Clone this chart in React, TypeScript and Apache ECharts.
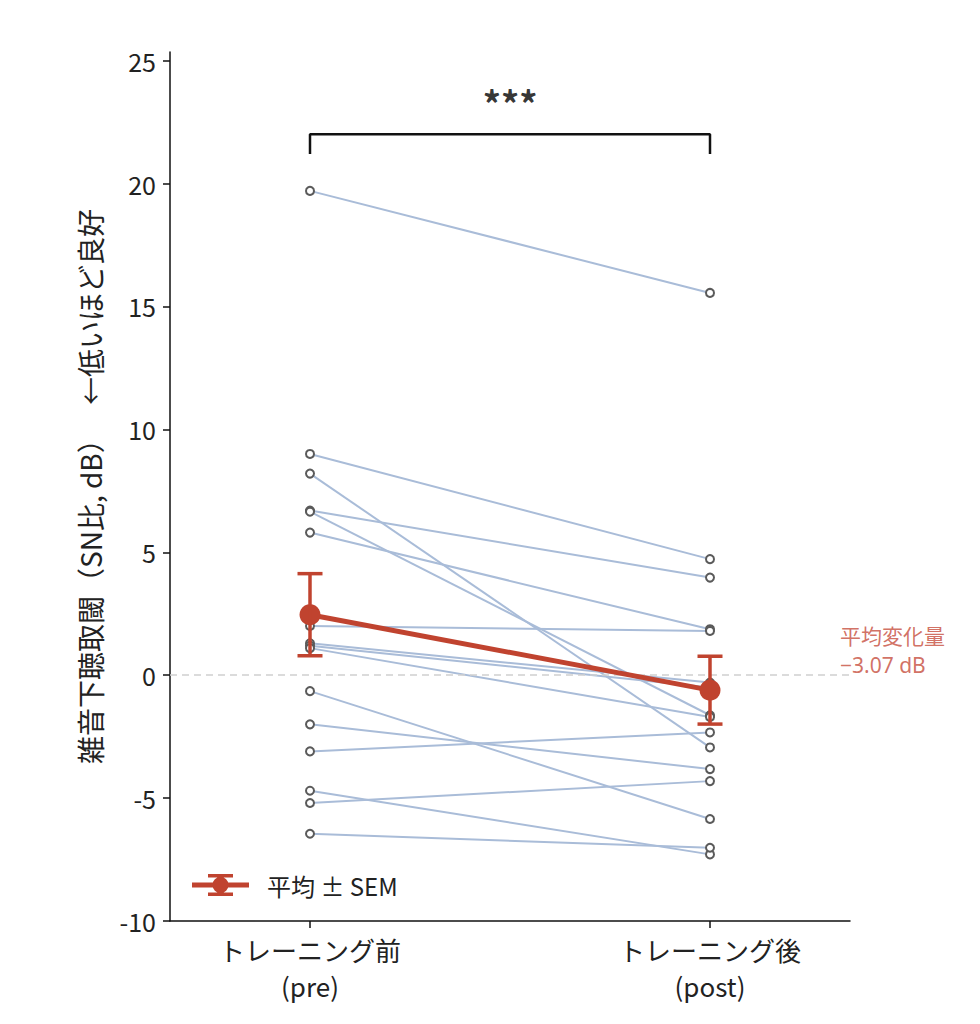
import React, { useEffect, useRef } from "react";
import * as echarts from "echarts";

const categories = ["トレーニング前\n(pre)", "トレーニング後\n(post)"];
const preValues = [19.7, 9.0, 8.2, 6.7, 6.65, 5.8, 2.0, 1.3, 1.2, 1.1, -0.65, -2.0, -3.1, -4.7, -5.2, -6.45];
const postValues = [15.55, 4.72, -2.94, 3.97, -1.63, 1.87, 1.8, -0.3, -0.5, -1.7, -5.85, -3.82, -2.33, -7.29, -4.31, -7.02];
const meanValues = [2.46, -0.61];
const semValues = [1.67, 1.38];
const yTicks = [-10, -5, 0, 5, 10, 15, 20, 25];
const xTicks = [0, 1];
const significanceText = "***";
const bracketLevel = 22;
const bracketDrop = 0.8;
const starsLevel = 23.3;
const changeLines = ["平均変化量", "\u22123.07 dB"];
const changeAnchors = [
  [1.325, 1.64],
  [1.325, 0.4],
];
const yAxisTitle = "雑音下聴取閾（SN比, dB）\u3000 ←低いほど良好";
const legendName = "平均 ± SEM";

const RED = "#c0432f";
const TEXT_RED = "#c64c3c";
const LINE_BLUE = "#a9bcd8";
const FONT = "'Noto Sans CJK JP', 'Noto Sans', sans-serif";
const LATIN_FONT = "'Noto Sans', sans-serif";

const legendIcon =
  "path://M0 8.5H57V13.5H0Z M27 0H30V22H27Z M16 0H41V3.5H16Z M16 18.5H41V22H16Z M20.5 11A8 8 0 1 1 36.5 11A8 8 0 1 1 20.5 11Z";

export default function App() {
  const ref = useRef<HTMLDivElement>(null);
  useEffect(() => {
    if (!ref.current) return;
    const chart = echarts.init(ref.current, null, { renderer: "svg" });

    const subjectSeries = preValues.map((p, i) => ({
      type: "line",
      name: "subject" + i,
      data: [
        [0, p],
        [1, postValues[i]],
      ],
      symbol: "none",
      silent: true,
      z: 2,
      lineStyle: { color: LINE_BLUE, width: 2 },
    }));

    const markerData: number[][] = [];
    preValues.forEach((p, i) => {
      markerData.push([0, p]);
      markerData.push([1, postValues[i]]);
    });

    const option: any = {
      animation: false,
      textStyle: { fontFamily: FONT },
      grid: { left: 170, right: 130, top: 52, bottom: 103, outerBoundsMode: "none" },
      legend: {
        data: [{ name: legendName, icon: legendIcon }],
        left: 187,
        top: 868,
        itemWidth: 57,
        itemHeight: 22,
        selectedMode: false,
        textStyle: { fontSize: 24, color: "#222", fontFamily: FONT, padding: [0, 0, 0, 13] },
      },
      xAxis: {
        type: "value",
        min: -0.35,
        max: 1.35,
        splitLine: { show: false },
        axisLine: { show: true, onZero: false, lineStyle: { color: "#111", width: 1.5 } },
        axisTick: { show: true, customValues: xTicks, length: 7, lineStyle: { color: "#111", width: 1.5 } },
        axisLabel: {
          customValues: xTicks,
          formatter: (v: number) => categories[Math.round(v)],
          fontSize: 26,
          lineHeight: 36,
          color: "#222",
          margin: 10,
          fontFamily: FONT,
        },
      },
      yAxis: {
        type: "value",
        min: -10,
        max: 25.35,
        interval: 5,
        splitLine: { show: false },
        axisLine: { show: true, onZero: false, lineStyle: { color: "#111", width: 1.5 } },
        axisTick: { show: true, customValues: yTicks, length: 7, lineStyle: { color: "#111", width: 1.5 } },
        axisLabel: { customValues: yTicks, fontSize: 25, color: "#222", margin: 14, fontFamily: FONT },
        name: yAxisTitle,
        nameLocation: "middle",
        nameGap: 66,
        nameTextStyle: { fontSize: 28, color: "#222", fontFamily: FONT },
      },
      series: [
        {
          type: "line",
          name: "zero",
          data: [],
          silent: true,
          markLine: {
            silent: true,
            symbol: "none",
            label: { show: false },
            lineStyle: { type: [7, 5], color: "#cfcfcf", width: 1.5 },
            data: [{ yAxis: 0 }],
          },
          z: 1,
        },
        ...subjectSeries,
        {
          type: "scatter",
          name: "markers",
          data: markerData,
          symbol: "circle",
          symbolSize: 8,
          silent: true,
          z: 3,
          itemStyle: { color: "#fff", borderColor: "#5a5a5a", borderWidth: 2, opacity: 1 },
        },
        {
          type: "line",
          name: "bracket",
          data: [
            [0, bracketLevel - bracketDrop],
            [0, bracketLevel],
            [1, bracketLevel],
            [1, bracketLevel - bracketDrop],
          ],
          symbol: "none",
          silent: true,
          lineStyle: { color: "#111", width: 2.5 },
          z: 4,
        },
        {
          type: "scatter",
          name: "stars",
          data: [[0.5, starsLevel]],
          symbolSize: 0,
          silent: true,
          label: {
            show: true,
            position: "inside",
            formatter: significanceText,
            fontSize: 36,
            fontWeight: "bold",
            color: "#000",
            fontFamily: FONT,
          },
        },
        {
          type: "line",
          name: legendName,
          data: meanValues.map((m, i) => [i, m]),
          symbol: "circle",
          symbolSize: 21,
          color: RED,
          itemStyle: { color: RED },
          lineStyle: { color: RED, width: 5 },
          silent: true,
          z: 10,
        },
        {
          type: "custom",
          name: "sem",
          data: meanValues.map((m, i) => [i, m, semValues[i]]),
          silent: true,
          z: 11,
          renderItem: (params: any, api: any) => {
            const x = api.value(0);
            const m = api.value(1);
            const s = api.value(2);
            const top = api.coord([x, m + s]);
            const bot = api.coord([x, m - s]);
            const half = 12.5;
            const st = { stroke: RED, lineWidth: 3.5 };
            return {
              type: "group",
              children: [
                { type: "line", shape: { x1: top[0], y1: top[1], x2: bot[0], y2: bot[1] }, style: st },
                { type: "line", shape: { x1: top[0] - half, y1: top[1], x2: top[0] + half, y2: top[1] }, style: st },
                { type: "line", shape: { x1: bot[0] - half, y1: bot[1], x2: bot[0] + half, y2: bot[1] }, style: st },
              ],
            };
          },
        },
        {
          type: "scatter",
          name: "change",
          data: changeAnchors.map((c, i) => ({
            value: c,
            label: { fontFamily: i === 0 ? FONT : LATIN_FONT },
          })),
          symbolSize: 0,
          silent: true,
          label: {
            show: true,
            position: "right",
            distance: 0,
            formatter: (p: any) => changeLines[p.dataIndex],
            fontSize: 21,
            lineHeight: 21,
            color: TEXT_RED,
            align: "left",
          },
        },
      ],
    };
    chart.setOption(option);
    return () => chart.dispose();
  }, []);
  return (
    <div
      ref={ref}
      style={{ position: "absolute", left: 0, top: 0, width: 980, height: 1024, background: "#fff" }}
    />
  );
}
